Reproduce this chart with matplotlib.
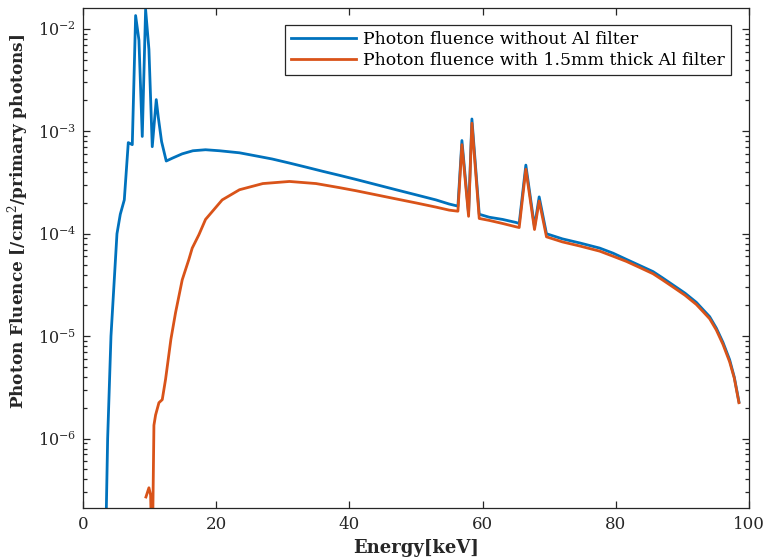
import matplotlib
matplotlib.use("Agg")
import matplotlib.pyplot as plt
from matplotlib.ticker import LogLocator, NullFormatter, FixedLocator

plt.rcParams['font.family'] = ['DejaVu Serif']
plt.rcParams['mathtext.fontset'] = 'dejavuserif'

# Spectrum without filter (energy in keV, fluence per cm^2 per primary photon)
energy_nofilter = [3.5, 3.7, 4.2, 5.1, 5.6, 6.2, 6.8, 7.4, 7.9, 8.4, 8.9, 9.4,
                   9.9, 10.4, 11.0, 11.3, 11.8, 12.5, 13.5, 14.9, 16.5, 18.4,
                   20.5, 23.5, 26.0, 28.4, 31.0, 33.5, 36.0, 38.5, 41.0, 44.0,
                   47.0, 50.0, 53.0, 55.0, 56.3, 56.9, 57.9, 58.4, 59.5, 61.0,
                   63.0, 65.0, 65.5, 66.5, 67.8, 68.5, 69.6, 72.0, 74.6, 77.6,
                   79.6, 81.6, 83.6, 85.6, 87.0, 88.6, 90.4, 92.1, 93.1, 94.1,
                   95.1, 96.1, 97.1, 97.8, 98.5]
fluence_nofilter = [2.0e-7, 1.0e-6, 1.0e-5, 1.0e-4, 1.55e-4, 2.14e-4, 7.76e-4,
                    7.41e-4, 1.35e-2, 7.76e-3, 8.91e-4, 1.55e-2, 6.31e-3,
                    7.08e-4, 2.04e-3, 1.38e-3, 7.94e-4, 5.13e-4, 5.50e-4,
                    6.03e-4, 6.46e-4, 6.61e-4, 6.46e-4, 6.17e-4, 5.75e-4,
                    5.37e-4, 4.90e-4, 4.47e-4, 4.07e-4, 3.72e-4, 3.39e-4,
                    3.02e-4, 2.69e-4, 2.40e-4, 2.14e-4, 1.95e-4, 1.86e-4,
                    8.13e-4, 1.58e-4, 1.32e-3, 1.55e-4, 1.45e-4, 1.38e-4,
                    1.29e-4, 1.26e-4, 4.68e-4, 1.17e-4, 2.29e-4, 1.0e-4,
                    8.91e-5, 8.13e-5, 7.24e-5, 6.46e-5, 5.62e-5, 4.90e-5,
                    4.27e-5, 3.72e-5, 3.16e-5, 2.63e-5, 2.14e-5, 1.82e-5,
                    1.55e-5, 1.20e-5, 8.71e-6, 5.89e-6, 3.98e-6, 2.29e-6]

# Spectrum behind 1.5 mm Al
energy_al = [9.45, 9.9, 10.15, 10.4, 10.65, 10.9, 11.4, 11.9, 12.4, 13.2, 13.9,
             14.9, 15.9, 16.4, 17.4, 18.4, 20.9, 23.5, 27.0, 31.0, 35.0, 38.5,
             41.0, 44.0, 47.0, 50.0, 53.0, 55.0, 56.3, 56.9, 57.9, 58.4, 59.5,
             61.0, 63.0, 65.0, 65.5, 66.5, 67.8, 68.5, 69.6, 72.0, 74.6, 77.6,
             79.6, 81.6, 83.6, 85.6, 87.0, 88.6, 90.4, 92.1, 93.1, 94.1, 95.1,
             96.1, 97.1, 97.8, 98.5]
fluence_al = [2.69e-7, 3.31e-7, 2.82e-7, 6.3e-8, 1.35e-6, 1.70e-6, 2.24e-6,
              2.40e-6, 3.80e-6, 9.33e-6, 1.70e-5, 3.55e-5, 5.62e-5, 7.24e-5,
              9.77e-5, 1.38e-4, 2.14e-4, 2.69e-4, 3.09e-4, 3.24e-4, 3.09e-4,
              2.82e-4, 2.63e-4, 2.40e-4, 2.19e-4, 2.00e-4, 1.82e-4, 1.70e-4,
              1.66e-4, 7.41e-4, 1.48e-4, 1.20e-3, 1.41e-4, 1.35e-4, 1.26e-4,
              1.17e-4, 1.15e-4, 4.27e-4, 1.10e-4, 2.09e-4, 9.33e-5, 8.32e-5,
              7.59e-5, 6.76e-5, 6.03e-5, 5.37e-5, 4.68e-5, 4.07e-5, 3.55e-5,
              3.02e-5, 2.51e-5, 2.04e-5, 1.74e-5, 1.48e-5, 1.15e-5, 8.32e-6,
              5.62e-6, 3.89e-6, 2.24e-6]

x_ticks = [0, 20, 40, 60, 80, 100]
labels = ["Photon fluence without Al filter",
          "Photon fluence with 1.5mm thick Al filter"]

fig = plt.figure(figsize=(7.65, 5.59), dpi=100)
ax = fig.add_axes([0.1085, 0.0912, 0.8705, 0.8945])

ax.plot(energy_nofilter, fluence_nofilter, color='#0072BD', lw=2.0, label=labels[0])
ax.plot(energy_al, fluence_al, color='#D95319', lw=2.0, label=labels[1])

ax.set_yscale('log')
ax.set_xlim(0, 100)
ax.set_ylim(2.1e-7, 1.6e-2)
ax.xaxis.set_major_locator(FixedLocator(x_ticks))
ax.yaxis.set_major_locator(LogLocator(base=10, numticks=20))
ax.yaxis.set_minor_locator(LogLocator(base=10, subs=range(2, 10), numticks=20))
ax.yaxis.set_minor_formatter(NullFormatter())

ax.tick_params(which='both', direction='in', top=True, right=True,
               colors='#262626', labelcolor='#262626', width=0.9)
ax.tick_params(axis='x', labelsize=12, pad=6)
ax.tick_params(axis='y', labelsize=11.5, pad=5)
ax.tick_params(which='major', length=5)
ax.tick_params(which='minor', length=3)
for s in ax.spines.values():
    s.set_color('#262626')
    s.set_linewidth(0.9)

ax.set_xlabel("Energy[keV]", fontweight='bold', fontsize=13, color='#262626')
ax.xaxis.set_label_coords(0.5, -0.062)
ax.set_ylabel("Photon Fluence [/cm$^2$/primary photons]", fontweight='bold',
              fontsize=12.2, color='#262626')
ax.yaxis.set_label_coords(-0.078, 0.574)

leg = ax.legend(loc='upper right', bbox_to_anchor=(0.973, 0.966),
                borderaxespad=0, fancybox=False, edgecolor='#262626',
                framealpha=1, fontsize=12.4, handlelength=3.8, labelspacing=0.25,
                borderpad=0.35, handletextpad=0.4, handleheight=0.8)
leg.get_frame().set_linewidth(0.9)

fig.savefig("out.png", dpi=100)
